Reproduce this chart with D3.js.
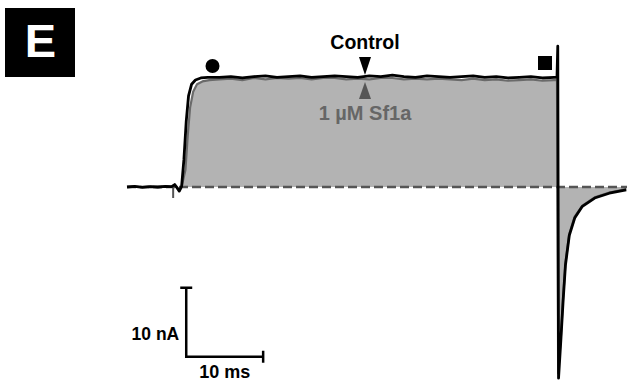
<!DOCTYPE html>
<html>
<head>
<meta charset="utf-8">
<script src="https://cdn.jsdelivr.net/npm/d3@7"></script>
<style>
  body { margin: 0; background: #fff; }
  svg { display: block; font-family: "Liberation Sans", Arial, sans-serif; }
</style>
</head>
<body>
<div id="chart"></div>
<script>
// traces: [time (ms), current (nA)]
var controlTrace = [
  [0, 0], [1, 0.1], [2, -0.05], [3, 0.05], [4, 0], [5, 0.1], [5.8, 0.05], [6.2, 0.35],
  [6.5, -0.1], [6.8, -0.6], [7.1, 0.1], [7.4, 4.0], [7.7, 9.5], [8.0, 13.2], [8.4, 14.9],
  [8.9, 15.5], [9.6, 15.8], [10.5, 15.9], [12, 15.9], [13.5, 16.0], [15, 15.8], [16.5, 16.0],
  [18, 16.1], [19.5, 15.9], [21, 16.0], [22.5, 16.1], [24, 15.9], [25.5, 16.0], [27, 16.1],
  [28.5, 16.0], [30, 15.9], [31.5, 16.1], [33, 16.0], [34.5, 16.2], [36, 16.0], [37.5, 15.9],
  [39, 16.1], [40.5, 16.0], [42, 15.9], [43.5, 16.0], [45, 16.1], [46.5, 15.9], [48, 16.0],
  [49.5, 15.8], [51, 15.9], [52.5, 16.0], [54, 15.8], [55.5, 15.9], [55.9, 15.9],
  [56.0, 20.4], [56.1, -27.7], [56.4, -22.2], [56.7, -16.4], [57.0, -11.3], [57.5, -7.0],
  [58.2, -4.5], [59.2, -2.8], [60.8, -1.6], [62.7, -0.9], [64.9, -0.4]
];
var sf1aTrace = [
  [0, 0], [1, 0.05], [2, 0], [3, 0.05], [4, -0.05], [5, 0.05], [5.8, 0], [6.2, 0.3],
  [6.5, -0.1], [6.8, -0.5], [7.1, 0.05], [7.6, 2.5], [7.9, 7.5], [8.2, 11.5], [8.6, 13.8],
  [9.1, 14.9], [9.8, 15.3], [10.7, 15.5], [12, 15.6], [13.5, 15.7], [15, 15.5], [16.5, 15.8],
  [18, 15.6], [19.5, 15.8], [21, 15.7], [22.5, 15.8], [24, 15.6], [25.5, 15.8], [27, 15.8],
  [28.5, 15.6], [30, 15.7], [31.5, 15.6], [33, 15.8], [34.5, 15.8], [36, 15.6], [37.5, 15.7],
  [39, 15.6], [40.5, 15.7], [42, 15.6], [43.5, 15.5], [45, 15.7], [46.5, 15.5], [48, 15.6],
  [49.5, 15.4], [51, 15.5], [52.5, 15.6], [54, 15.4], [55.5, 15.5], [55.9, 15.5],
  [56.05, -27.0], [56.4, -21.8], [56.7, -16.0], [57.0, -11.0], [57.5, -6.8],
  [58.2, -4.3], [59.2, -2.7], [60.8, -1.5], [62.7, -0.8], [64.9, -0.3]
];
var timeDomain = [0, 65];      // ms
var currentDomain = [-28, 20.5]; // nA
var stimTime = 6.0;            // stimulus marker
var scaleBarT = 10, scaleBarI = 10;
var scaleBarOrigin = [7.7, -24.6];
var labels = { panel: "E", control: "Control", toxin: "1 \u00b5M Sf1a", iUnit: "10 nA", tUnit: "10 ms" };

var W = 627, H = 381;
var svg = d3.select("#chart").append("svg").attr("width", W).attr("height", H);

var x = d3.scaleLinear().domain(timeDomain).range([127, 627]);
var y = d3.scaleLinear().domain(currentDomain).range([380.2, 45.55]);

var line = d3.line().x(function(d){ return x(d[0]); }).y(function(d){ return y(d[1]); });
var area = d3.area().x(function(d){ return x(d[0]); }).y0(y(0)).y1(function(d){ return y(d[1]); });

// Sf1a trace as filled area
svg.append("path").datum(sf1aTrace).attr("d", area).attr("fill", "#b3b3b3");
svg.append("path").datum(sf1aTrace).attr("d", line)
  .attr("fill", "none").attr("stroke", "#6a6a6a").attr("stroke-width", 2.2)
  .attr("stroke-linejoin", "round");

// baseline
svg.append("line")
  .attr("x1", x(timeDomain[0])).attr("x2", x(timeDomain[1]))
  .attr("y1", y(0)).attr("y2", y(0))
  .attr("stroke", "#555").attr("stroke-width", 2.4).attr("stroke-dasharray", "9,4");

// stimulus tick
svg.append("line")
  .attr("x1", x(stimTime)).attr("x2", x(stimTime))
  .attr("y1", y(0)).attr("y2", y(0) + 11)
  .attr("stroke", "#555").attr("stroke-width", 2);

// control trace
svg.append("path").datum(controlTrace).attr("d", line)
  .attr("fill", "none").attr("stroke", "#000").attr("stroke-width", 2.8)
  .attr("stroke-linejoin", "round");

// panel label
svg.append("rect").attr("x", 5).attr("y", 8).attr("width", 70).attr("height", 69).attr("fill", "#000");
svg.append("text").attr("x", 40.5).attr("y", 57).attr("text-anchor", "middle")
  .attr("font-size", 47).attr("font-weight", "bold").attr("fill", "#fff").text(labels.panel);

// markers
svg.append("circle").attr("cx", 212.5).attr("cy", 66).attr("r", 7).attr("fill", "#000");
svg.append("rect").attr("x", 538).attr("y", 56).attr("width", 14).attr("height", 14).attr("fill", "#000");

// arrows + labels
svg.append("path").attr("d", "M359,57L371,57L365,75Z").attr("fill", "#000");
svg.append("path").attr("d", "M365,82L371,99L359,99Z").attr("fill", "#555");
svg.append("text").attr("x", 365).attr("y", 49).attr("text-anchor", "middle")
  .attr("font-size", 19.5).attr("font-weight", "bold").attr("fill", "#000").text(labels.control);
svg.append("text").attr("x", 365).attr("y", 120).attr("text-anchor", "middle")
  .attr("font-size", 20).attr("font-weight", "bold").attr("fill", "#666").text(labels.toxin);

// scale bar
var sx0 = x(scaleBarOrigin[0]), sy0 = y(scaleBarOrigin[1]);
var sx1 = x(scaleBarOrigin[0] + scaleBarT), sy1 = y(scaleBarOrigin[1] + scaleBarI);
var sb = svg.append("g").attr("stroke", "#000").attr("stroke-width", 2.5).attr("fill", "none");
sb.append("path").attr("d", "M" + sx0 + "," + sy1 + "V" + sy0 + "H" + sx1);
sb.append("path").attr("d", "M" + (sx0 - 6) + "," + sy1 + "H" + (sx0 + 6));
sb.append("path").attr("d", "M" + sx1 + "," + (sy0 - 6) + "V" + (sy0 + 6));
svg.append("text").attr("x", sx0 - 7).attr("y", (sy0 + sy1) / 2 + 18).attr("text-anchor", "end")
  .attr("font-size", 17.5).attr("font-weight", "bold").text(labels.iUnit);
svg.append("text").attr("x", (sx0 + sx1) / 2).attr("y", 378).attr("text-anchor", "middle")
  .attr("font-size", 18).attr("font-weight", "bold").text(labels.tUnit);
</script>
</body>
</html>
